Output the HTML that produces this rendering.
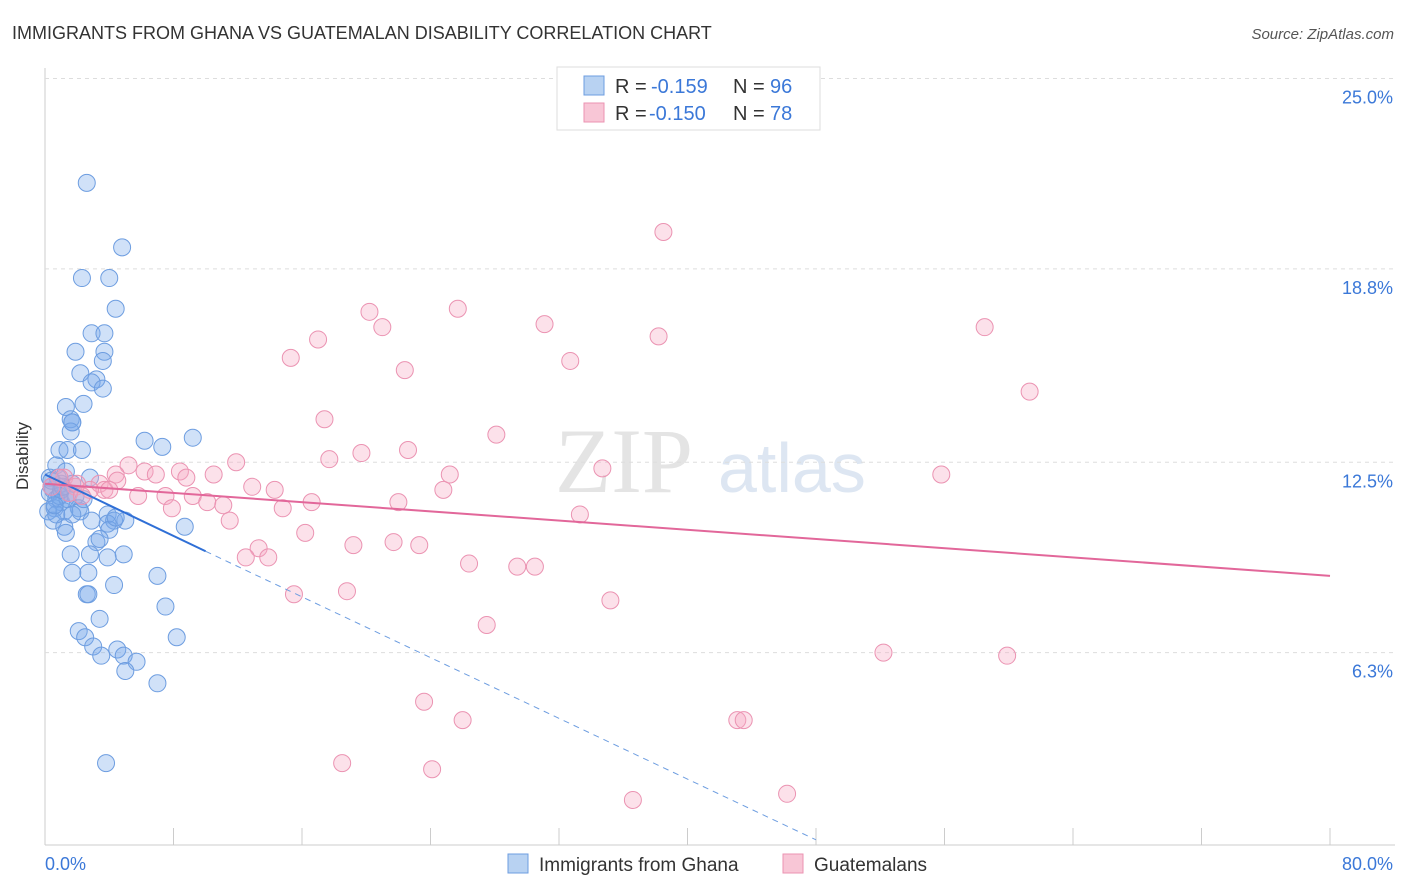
<!DOCTYPE html>
<html><head><meta charset="utf-8">
<style>
body{margin:0;background:#fff;font-family:"Liberation Sans",sans-serif;}
#wrap{position:relative;width:1406px;height:892px;overflow:hidden;}
</style></head>
<body>
<div id="wrap">
<svg id="chart" width="1406" height="892">
<text x="12" y="39" font-size="18" fill="#333">IMMIGRANTS FROM GHANA VS GUATEMALAN DISABILITY CORRELATION CHART</text>
<text x="1394" y="39" font-size="15" fill="#555" font-style="italic" text-anchor="end">Source: ZipAtlas.com</text>
<text x="555" y="492" font-size="92" fill="#e4e4e4" font-family="Liberation Serif">ZIP</text>
<text x="718" y="492" font-size="70" fill="#dde6f2">atlas</text>
<text x="28" y="456" font-size="17" fill="#333" text-anchor="middle" transform="rotate(-90 28 456)">Disability</text>
<g id="grid"></g>
<g id="marks"></g>
<g id="lines"></g>
<rect x="557" y="67" width="263" height="63" fill="#fff" stroke="#ddd"/>
<rect x="584" y="76" width="20" height="19" fill="#b8d2f2" stroke="#6d9de0"/>
<rect x="584" y="103" width="20" height="19" fill="#f8c6d6" stroke="#eb93b2"/>
<g font-size="20">
<text x="615" y="93" fill="#333">R =</text><text x="651" y="93" fill="#3b78d8">-0.159</text>
<text x="733" y="93" fill="#333">N =</text><text x="770" y="93" fill="#3b78d8">96</text></g>
<g font-size="20">
<text x="615" y="120" fill="#333">R =</text><text x="649" y="120" fill="#3b78d8">-0.150</text>
<text x="733" y="120" fill="#333">N =</text><text x="770" y="120" fill="#3b78d8">78</text></g>
<rect x="508" y="854" width="20" height="19" fill="#b8d2f2" stroke="#6d9de0"/>
<text x="539" y="871" font-size="19" fill="#333">Immigrants from Ghana</text>
<rect x="783" y="854" width="20" height="19" fill="#f8c6d6" stroke="#eb93b2"/>
<text x="814" y="871" font-size="19" fill="#333">Guatemalans</text>
</svg>
</div>
<script>
const yTicks=[25.0,18.8,12.5,6.3];
const yTickLabels=["25.0%","18.8%","12.5%","6.3%"];
const xTickLabels=["0.0%","80.0%"];
const ghanaX=[2.6,4.8,2.3,4.0,4.4,2.9,3.7,1.9,3.7,3.6,2.2,3.2,2.9,3.6,2.4,1.3,1.6,1.7,1.6,1.7,6.2,7.3,9.2,0.9,1.4,2.3,0.7,1.3,0.8,1.0,0.5,1.7,1.9,0.3,0.7,1.0,0.6,2.1,2.2,1.2,0.2,0.5,2.9,3.9,4.3,5.0,3.9,4.0,1.2,1.3,8.7,3.2,3.4,1.6,2.8,4.9,3.9,1.7,2.7,7.0,4.3,2.6,2.7,7.5,3.4,2.1,2.5,8.2,3.0,4.5,3.5,4.9,5.7,5.0,7.0,3.8,0.3,0.4,0.9,1.4,0.7,1.7,4.4,2.4,1.0,0.4,1.5,2.8,0.6,1.1];
const ghanaY=[21.6,19.5,18.5,18.5,17.5,16.7,16.7,16.1,16.1,15.8,15.4,15.2,15.1,14.9,14.4,14.3,13.9,13.8,13.5,13.8,13.2,13.0,13.3,12.9,12.9,12.9,12.4,12.2,12.0,11.8,11.6,11.8,11.4,11.5,11.3,11.2,11.0,11.0,10.9,10.9,10.9,10.6,10.6,10.8,10.6,10.6,10.5,10.3,10.4,10.2,10.4,9.9,10.0,9.5,9.5,9.5,9.4,8.9,8.9,8.8,8.5,8.2,8.2,7.8,7.4,7.0,6.8,6.8,6.5,6.4,6.2,6.2,6.0,5.7,5.3,2.7,12.0,11.7,11.4,11.3,10.8,10.8,10.7,11.3,11.6,11.9,11.5,12.0,11.1,11.7];
const guatX=[38.5,25.7,20.2,21.0,31.1,17.0,38.2,58.5,15.3,32.7,22.4,61.3,17.4,28.1,22.6,19.7,17.7,11.9,5.2,6.2,8.4,6.9,10.5,25.2,34.7,55.8,8.8,4.4,3.4,1.2,1.9,12.9,14.3,24.8,7.5,9.2,10.1,11.1,16.6,22.0,7.9,11.5,14.8,33.3,16.2,21.7,23.3,19.2,13.3,12.5,13.9,26.4,29.4,30.5,15.5,18.8,35.2,27.5,52.2,59.9,23.6,26.0,43.1,43.5,18.5,24.1,36.6,46.2,3.7,2.8,5.8,4.5,0.9,0.4,4.0,2.0,1.5,2.3];
const guatY=[20.0,17.5,17.4,16.9,17.0,16.5,16.6,16.9,15.9,15.8,15.5,14.8,13.9,13.4,12.9,12.8,12.6,12.5,12.4,12.2,12.2,12.1,12.1,12.1,12.3,12.1,12.0,12.1,11.8,12.0,11.7,11.7,11.6,11.6,11.4,11.4,11.2,11.1,11.2,11.2,11.0,10.6,11.0,10.8,10.2,9.9,9.8,9.8,9.7,9.4,9.4,9.2,9.1,9.1,8.2,8.3,8.0,7.2,6.3,6.2,4.7,4.1,4.1,4.1,2.7,2.5,1.5,1.7,11.6,11.6,11.4,11.9,12.0,11.7,11.6,11.8,11.5,11.4];
const ghanaTrend=[[0,12.1],[10,9.6]];
const ghanaTrendExt=[[10,9.6],[48,0.2]];
const guatTrend=[[0,11.8],[80,8.8]];

const NS="http://www.w3.org/2000/svg";
const X0=45,X1=1330,YB=846,PXY=30.7;
function sx(v){return X0+(v/80)*(X1-X0);}
function sy(v){return YB-v*PXY;}
function mk(tag,attrs,parent){const e=document.createElementNS(NS,tag);for(const k in attrs)e.setAttribute(k,attrs[k]);document.getElementById(parent).appendChild(e);return e;}

let ax=mk('line',{x1:45,y1:68,x2:45,y2:845,stroke:'#ccc'},'grid');


let bx=mk('line',{x1:45,y1:845,x2:1395,y2:845,stroke:'#ccc'},'grid');


yTicks.forEach((t,i)=>{
  const g=mk('line',{x1:45,y1:sy(t),x2:1395,y2:sy(t),stroke:'#ddd','stroke-dasharray':'4,4'},'grid');
  
  
  const l=mk('text',{x:1393,y:sy(t)+25,'font-size':18,fill:'#3b78d8','text-anchor':'end'},'grid');
  l.textContent=yTickLabels[i];
  
  
});
for(let i=0;i<=10;i++){
  const x=sx(i*8);
  const t=mk('line',{x1:x,y1:828,x2:x,y2:845,stroke:'#ccc'},'grid');
  
  
}
[[0,'start',45],[80,'end',1393]].forEach((d,i)=>{
  const l=mk('text',{x:d[2],y:870,'font-size':18,fill:'#3b78d8','text-anchor':d[1]},'grid');
  l.textContent=xTickLabels[i];
  
  
});

ghanaX.forEach((v,i)=>{
  const c=mk('circle',{cx:sx(v),cy:sy(ghanaY[i]),r:8.5,fill:'rgba(120,170,235,0.35)',stroke:'#6d9de0','stroke-width':1},'marks');
  
  
});
guatX.forEach((v,i)=>{
  const c=mk('circle',{cx:sx(v),cy:sy(guatY[i]),r:8.5,fill:'rgba(245,170,195,0.35)',stroke:'#eb93b2','stroke-width':1},'marks');
  
  
});

let l1=mk('line',{x1:sx(ghanaTrend[0][0]),y1:sy(ghanaTrend[0][1]),x2:sx(ghanaTrend[1][0]),y2:sy(ghanaTrend[1][1]),stroke:'#2f6fd6','stroke-width':2},'lines');


let l2=mk('line',{x1:sx(ghanaTrendExt[0][0]),y1:sy(ghanaTrendExt[0][1]),x2:sx(ghanaTrendExt[1][0]),y2:sy(ghanaTrendExt[1][1]),stroke:'#6d9de0','stroke-width':1,'stroke-dasharray':'6,5'},'lines');


let l3=mk('line',{x1:sx(guatTrend[0][0]),y1:sy(guatTrend[0][1]),x2:sx(guatTrend[1][0]),y2:sy(guatTrend[1][1]),stroke:'#e2679a','stroke-width':2},'lines');


</script>
</body></html>
